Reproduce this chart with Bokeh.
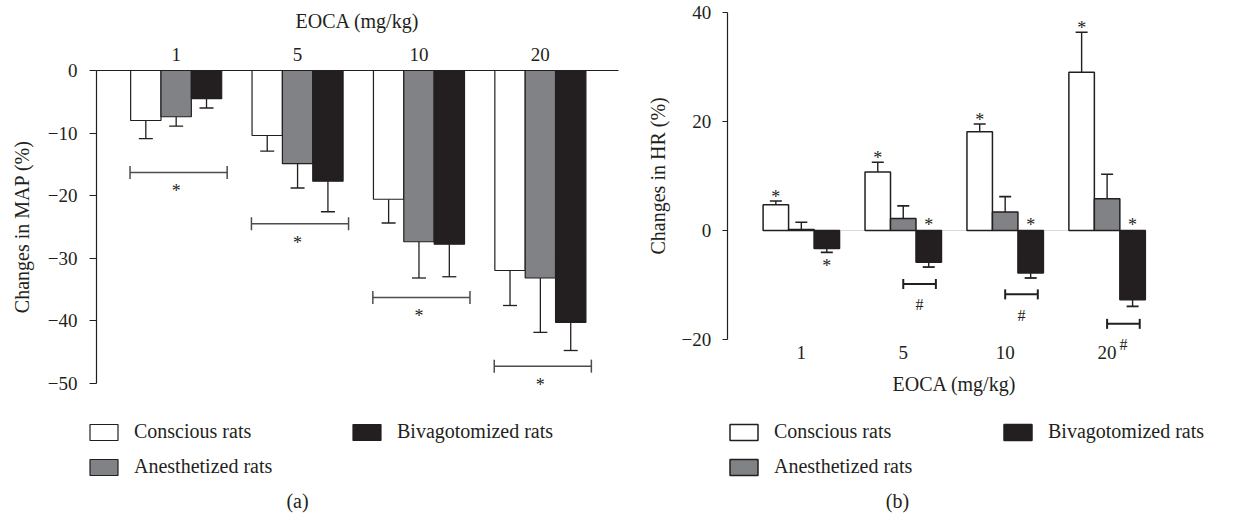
import math
import numpy as np
from bokeh.plotting import figure
from bokeh.layouts import row
from bokeh.models import (ColumnDataSource, Range1d, FixedTicker, LinearAxis, Whisker,
                          TeeHead, Legend, LegendItem, Label)
from bokeh.embed import file_html
from bokeh.resources import INLINE
from bokeh.core.properties import value

# ---------------- data ----------------
doses = ["1", "5", "10", "20"]
groups = ["Conscious rats", "Anesthetized rats", "Bivagotomized rats"]

# (a) changes in MAP (%): mean and end of error bar
map_conscious = [-8.0, -10.4, -20.6, -32.0]
map_conscious_err = [-10.9, -12.9, -24.4, -37.6]
map_anesthetized = [-7.4, -14.9, -27.4, -33.2]
map_anesthetized_err = [-8.9, -18.8, -33.2, -41.9]
map_bivagotomized = [-4.5, -17.7, -27.8, -40.3]
map_bivagotomized_err = [-6.0, -22.6, -33.0, -44.8]
map_bracket_level = [-16.3, -24.5, -36.3, -47.3]
map_bracket_mark = ["*", "*", "*", "*"]

# (b) changes in HR (%)
hr_conscious = [4.7, 10.7, 18.1, 29.0]
hr_conscious_err = [5.4, 12.5, 19.5, 36.3]
hr_anesthetized = [0.2, 2.2, 3.4, 5.8]
hr_anesthetized_err = [1.5, 4.5, 6.2, 10.3]
hr_bivagotomized = [-3.3, -5.8, -7.8, -12.7]
hr_bivagotomized_err = [-4.0, -6.7, -8.7, -13.9]
hr_conscious_mark = ["*", "*", "*", "*"]
hr_bivagotomized_mark = ["*", "*", "*", "*"]
hr_bivagotomized_mark_side = ["below", "above", "above", "above"]
hr_bracket_dose = ["5", "10", "20"]
hr_bracket_level = [-9.8, -11.7, -17.1]
hr_bracket_mark = ["#", "#", "#"]

map_ticks = [-50, -40, -30, -20, -10, 0]
hr_ticks = [-20, 0, 20, 40]

# ---------------- style ----------------
FONT = "Liberation Serif"
INK = "#231f20"
FILLS = ["#ffffff", "#808285", "#231f20"]
BAR_W = 0.25
OFFS = [-BAR_W, 0.0, BAR_W]
gx = np.arange(len(doses), dtype=float)


def minus(v):
    return str(v).replace("-", "\u2212")


def base_fig(width, xr, yr):
    p = figure(width=width, height=518, x_range=xr, y_range=yr,
               x_axis_location=None, y_axis_location=None,
               output_backend="svg", toolbar_location=None,
               min_border_left=0, min_border_right=0,
               min_border_top=0, min_border_bottom=0)
    p.outline_line_color = None
    p.grid.visible = False
    p.background_fill_color = "white"
    p.border_fill_color = "white"
    return p


def style_axis(ax):
    ax.major_label_text_font = FONT
    ax.major_label_text_font_size = "19px"
    ax.major_label_text_color = INK
    ax.minor_tick_line_color = None
    ax.axis_line_color = INK
    ax.axis_line_width = 1.2
    ax.major_tick_line_color = INK
    ax.major_tick_line_width = 1.2
    ax.major_tick_in = 0


def add_legend(p, renderers, x, label_width):
    items = [LegendItem(label=g, renderers=[r]) for g, r in zip(groups, renderers)]
    lg = Legend(items=items, location=(x, 40), orientation="vertical", nrows=2,
                glyph_width=35, glyph_height=20, label_standoff=13,
                label_width=label_width, label_height=20, spacing=12,
                padding=0, margin=0, border_line_color=None,
                background_fill_alpha=0.0,
                label_text_font=FONT, label_text_font_size="20px",
                label_text_color=INK)
    p.add_layout(lg)


def text_label(p, text, x, y, y_units="screen", angle=0.0):
    p.add_layout(Label(x=x, y=y, x_units="screen", y_units=y_units, text=text,
                       angle=angle, text_align="center", text_baseline="middle",
                       text_font=FONT, text_font_size="20px", text_color=INK))


def stars(p, xs, ys, texts, y_off, size="18px"):
    src = ColumnDataSource(dict(x=list(xs), y=list(ys), t=list(texts)))
    p.text(x="x", y="y", text="t", source=src, text_font=value(FONT),
           text_font_size=size, text_align="center", text_baseline="alphabetic",
           y_offset=y_off, text_color=INK)


# ================= panel (a) =================
A_YAXIS_X = -0.6565
A_XEND = 3.643
pa = base_fig(620, Range1d(-1.447, 3.660), Range1d(-71.68, 11.2))

ax_top = LinearAxis(ticker=FixedTicker(ticks=[0, 1, 2, 3]), fixed_location=0,
                    bounds=(A_YAXIS_X, A_XEND),
                    major_label_overrides={i: d for i, d in enumerate(doses)})
style_axis(ax_top)
ax_top.major_tick_out = 0
ax_top.major_tick_line_color = None
ax_top.major_label_standoff = 10
pa.add_layout(ax_top, "above")

ay_a = LinearAxis(ticker=FixedTicker(ticks=map_ticks), bounds=(-50, 0),
                  fixed_location=A_YAXIS_X,
                  major_label_overrides={t: minus(t) for t in map_ticks})
style_axis(ay_a)
ay_a.major_tick_out = 7
ay_a.major_label_standoff = 12
pa.add_layout(ay_a, "left")

map_vals = [map_conscious, map_anesthetized, map_bivagotomized]
map_errs = [map_conscious_err, map_anesthetized_err, map_bivagotomized_err]
rend_a = []
for k in range(3):
    src = ColumnDataSource(dict(x=gx + OFFS[k], top=[0.0] * len(doses),
                                bottom=map_vals[k], err=map_errs[k]))
    r = pa.vbar(x="x", top="top", bottom="bottom", width=BAR_W, source=src,
                fill_color=FILLS[k], line_color=INK, line_width=1.2)
    rend_a.append(r)
    pa.add_layout(Whisker(source=src, base="x", upper="bottom", lower="err",
                          dimension="height", line_color=INK, line_width=1.3,
                          upper_head=None,
                          lower_head=TeeHead(size=14, line_color=INK, line_width=1.3)))

br_a = ColumnDataSource(dict(y=map_bracket_level, x0=gx - 0.38, x1=gx + 0.42))
pa.add_layout(Whisker(source=br_a, base="y", lower="x0", upper="x1", dimension="width",
                      line_color="#4d4d4f", line_width=1.5,
                      lower_head=TeeHead(size=13, line_color="#4d4d4f", line_width=1.5),
                      upper_head=TeeHead(size=13, line_color="#4d4d4f", line_width=1.5)))
stars(pa, gx, map_bracket_level, map_bracket_mark, 19)

text_label(pa, "EOCA (mg/kg)", 357, 498)
text_label(pa, "Changes in MAP (%)", 21, -25, y_units="data", angle=math.pi / 2)
text_label(pa, "(a)", 297, 18)
add_legend(pa, rend_a, 86, 203)

# ================= panel (b) =================
B_YAXIS_X = -0.727
pb = base_fig(613, Range1d(-1.774, 4.240), Range1d(-52.75, 42.12))

ay_b = LinearAxis(ticker=FixedTicker(ticks=hr_ticks), bounds=(-20, 40),
                  fixed_location=B_YAXIS_X,
                  major_label_overrides={t: minus(t) for t in hr_ticks})
style_axis(ay_b)
ay_b.major_tick_out = 5
ay_b.major_label_standoff = 11
pb.add_layout(ay_b, "left")

ax_b = LinearAxis(ticker=FixedTicker(ticks=[0, 1, 2, 3]), fixed_location=-20,
                  major_label_overrides={i: d for i, d in enumerate(doses)})
style_axis(ax_b)
ax_b.axis_line_color = None
ax_b.major_tick_line_color = None
ax_b.major_label_standoff = 0
pb.add_layout(ax_b, "below")

# zero line across the bar groups
pb.segment(x0=[gx[0] - 1.5 * BAR_W], x1=[gx[-1] + 1.5 * BAR_W], y0=[0], y1=[0],
           line_color="#d9d9d9", line_width=1)

hr_vals = [hr_conscious, hr_anesthetized, hr_bivagotomized]
hr_errs = [hr_conscious_err, hr_anesthetized_err, hr_bivagotomized_err]
rend_b = []
for k in range(3):
    src = ColumnDataSource(dict(x=gx + OFFS[k], base=[0.0] * len(doses),
                                v=hr_vals[k], err=hr_errs[k]))
    r = pb.vbar(x="x", top="v", bottom="base", width=BAR_W, source=src,
                fill_color=FILLS[k], line_color=INK, line_width=1.5)
    rend_b.append(r)
    if k < 2:
        pb.add_layout(Whisker(source=src, base="x", lower="v", upper="err",
                              dimension="height", line_color=INK, line_width=1.4,
                              lower_head=None,
                              upper_head=TeeHead(size=12, line_color=INK, line_width=1.6)))
    else:
        pb.add_layout(Whisker(source=src, base="x", upper="v", lower="err",
                              dimension="height", line_color=INK, line_width=1.4,
                              upper_head=None,
                              lower_head=TeeHead(size=12, line_color=INK, line_width=1.8)))

# significance marks
stars(pb, gx + OFFS[0], hr_conscious_err, hr_conscious_mark, -4)
above = [i for i, s in enumerate(hr_bivagotomized_mark_side) if s == "above"]
below = [i for i, s in enumerate(hr_bivagotomized_mark_side) if s == "below"]
stars(pb, [gx[i] + OFFS[2] for i in above], [0.0] * len(above),
      [hr_bivagotomized_mark[i] for i in above], -5)
stars(pb, [gx[i] + OFFS[2] for i in below], [hr_bivagotomized_err[i] for i in below],
      [hr_bivagotomized_mark[i] for i in below], 14)

bidx = np.array([doses.index(d) for d in hr_bracket_dose], dtype=float)
br_b = ColumnDataSource(dict(y=hr_bracket_level, x0=bidx + 0.0, x1=bidx + 0.32))
pb.add_layout(Whisker(source=br_b, base="y", lower="x0", upper="x1", dimension="width",
                      line_color=INK, line_width=2,
                      lower_head=TeeHead(size=10, line_color=INK, line_width=2),
                      upper_head=TeeHead(size=10, line_color=INK, line_width=2)))
stars(pb, bidx + 0.16, hr_bracket_level, hr_bracket_mark, 21, size="16px")

text_label(pb, "Changes in HR (%)", 37, 10, y_units="data", angle=math.pi / 2)
text_label(pb, "EOCA (mg/kg)", 334, 135)
text_label(pb, "(b)", 277, 18)
add_legend(pb, rend_b, 106, 214)

layout = row(pa, pb)
open("out.html", "w").write(file_html(layout, INLINE))
